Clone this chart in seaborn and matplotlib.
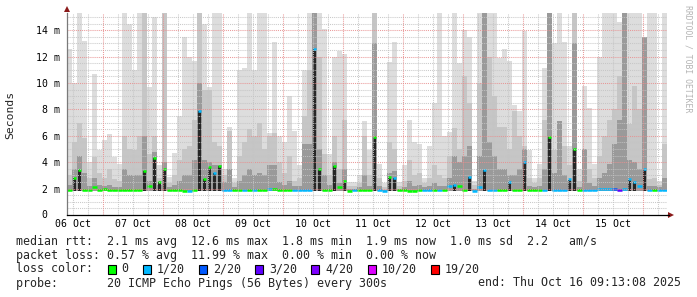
import numpy as np
import pandas as pd
import matplotlib
matplotlib.use("Agg")
import matplotlib.pyplot as plt
import matplotlib.dates as mdates
from matplotlib.patches import Rectangle, Polygon
import seaborn as sns

# ---------------- data (ms), one value per 2-hour bin ----------------
smoke_max = [12.6, 10.0, 15.5, 13.2, 4.0, 10.7, 4.9, 5.7, 6.1, 4.4,
             3.9, 15.5, 14.5, 11.0, 15.5, 15.5, 9.7, 15.0, 3.8, 15.5,
             2.9, 4.7, 7.5, 13.5, 12.0, 11.7, 15.5, 14.5, 9.7, 15.5,
             15.5, 3.5, 6.7, 2.8, 11.0, 11.1, 15.5, 11.0, 15.5, 15.5,
             6.2, 13.1, 6.0, 5.5, 9.0, 6.4, 3.8, 11.0, 15.5, 15.5,
             15.5, 14.1, 4.6, 12.0, 12.4, 12.2, 2.5, 2.5, 3.0, 7.1,
             4.9, 15.5, 3.9, 2.4, 11.6, 13.1, 2.5, 3.8, 7.2, 5.5,
             5.4, 2.8, 5.2, 8.5, 15.5, 6.0, 6.3, 15.5, 11.5, 14.0,
             13.5, 2.6, 15.5, 15.5, 15.5, 15.5, 11.9, 12.6, 11.7, 8.3,
             7.9, 13.9, 4.9, 2.8, 3.9, 11.1, 15.5, 13.0, 15.5, 13.1,
             5.2, 15.5, 3.5, 9.8, 8.1, 3.9, 12.0, 15.5, 15.5, 15.5,
             14.6, 15.5, 15.5, 15.5, 15.5, 13.5, 15.5, 15.5, 2.6, 15.5]
smoke_mid = [3.0, 5.5, 7.0, 5.8, 2.8, 4.4, 3.2, 2.8, 3.5, 2.7,
             2.6, 6.0, 5.0, 4.9, 6.0, 15.5, 4.6, 6.0, 2.8, 15.5,
             2.4, 3.0, 4.2, 5.0, 5.2, 7.2, 15.5, 9.5, 9.5, 5.5,
             5.2, 3.0, 6.4, 2.4, 4.5, 5.5, 6.5, 6.0, 7.0, 5.0,
             6.0, 6.2, 4.0, 3.2, 4.5, 2.6, 2.8, 7.5, 11.0, 15.5,
             12.0, 4.6, 3.0, 6.0, 3.5, 7.2, 2.2, 2.2, 2.4, 6.0,
             3.0, 15.5, 2.8, 2.1, 5.5, 5.0, 2.2, 2.6, 4.2, 3.0,
             3.2, 2.4, 2.8, 3.8, 3.0, 2.8, 4.5, 6.6, 5.0, 10.5,
             8.5, 2.3, 10.0, 15.5, 12.0, 9.0, 6.7, 6.7, 5.0, 7.9,
             6.0, 5.2, 2.8, 2.4, 2.8, 7.2, 15.5, 4.9, 7.1, 5.2,
             3.8, 15.5, 2.6, 5.0, 3.5, 2.8, 4.5, 6.0, 7.2, 8.0,
             10.5, 15.5, 6.9, 9.8, 8.0, 13.5, 2.7, 2.8, 2.3, 5.4]
smoke_low = [2.3, 3.5, 4.5, 3.2, 2.2, 2.8, 2.3, 2.2, 2.3, 2.1,
             2.1, 3.5, 3.0, 3.0, 3.0, 6.0, 2.6, 4.8, 2.3, 4.0,
             2.1, 2.3, 2.6, 3.0, 3.0, 4.2, 10.0, 4.2, 4.0, 3.8,
             3.8, 2.5, 3.5, 2.1, 2.6, 3.0, 3.5, 3.0, 3.2, 3.0,
             3.8, 3.8, 2.5, 2.3, 2.6, 2.2, 2.2, 5.4, 5.4, 15.5,
             5.0, 3.0, 2.3, 4.0, 2.4, 3.5, 2.0, 2.0, 2.1, 3.0,
             2.2, 13.0, 2.2, 1.9, 3.2, 3.3, 2.0, 2.1, 2.6, 2.2,
             2.3, 2.1, 2.2, 2.4, 2.2, 2.2, 2.8, 4.5, 4.0, 4.5,
             5.2, 2.0, 4.5, 15.5, 5.5, 4.5, 3.5, 3.5, 3.0, 3.0,
             3.5, 5.0, 2.2, 2.1, 2.2, 3.5, 15.5, 3.2, 7.1, 3.0,
             2.6, 13.0, 2.1, 5.0, 2.4, 2.2, 2.8, 3.2, 3.9, 5.4,
             7.2, 15.5, 4.2, 4.0, 3.5, 13.5, 2.2, 2.2, 2.1, 2.8]
median_rtt = [1.9, 2.8, 3.4, 1.9, 1.9, 2.1, 1.9, 1.95, 1.9, 1.9,
              1.9, 1.9, 1.9, 1.9, 1.9, 3.3, 2.2, 4.3, 2.5, 3.5,
              1.9, 1.9, 1.9, 1.8, 1.85, 1.9, 7.9, 2.7, 3.6, 3.2,
              3.7, 1.9, 1.9, 1.9, 1.9, 1.9, 1.9, 1.9, 1.9, 1.9,
              2.0, 2.0, 1.9, 1.9, 1.9, 1.9, 1.9, 1.9, 1.9, 12.6,
              3.5, 1.9, 1.9, 3.7, 2.1, 2.6, 1.8, 1.9, 1.9, 1.9,
              1.9, 5.9, 1.9, 1.8, 2.9, 2.8, 1.9, 1.9, 1.8, 1.8,
              1.9, 1.9, 1.9, 1.9, 1.9, 1.9, 2.2, 2.3, 2.2, 1.9,
              2.9, 1.8, 2.1, 3.4, 1.9, 1.9, 1.9, 1.9, 2.5, 1.9,
              1.9, 4.0, 1.9, 1.9, 1.9, 1.9, 5.9, 1.9, 1.9, 1.9,
              2.7, 5.0, 1.9, 1.9, 1.9, 1.9, 2.0, 2.0, 2.0, 2.0,
              1.9, 2.0, 2.7, 2.5, 2.2, 3.5, 1.9, 1.9, 1.9, 1.9]
loss_idx = [0, 0, 0, 0, 0, 0, 0, 0, 0, 0,
            0, 0, 0, 0, 0, 0, 0, 0, 0, 0,
            0, 0, 0, 0, 1, 0, 1, 0, 0, 1,
            0, 1, 1, 0, 0, 1, 0, 1, 0, 0,
            1, 0, 0, 0, 0, 1, 1, 1, 1, 1,
            0, 0, 0, 0, 0, 0, 0, 1, 0, 0,
            0, 0, 1, 1, 0, 1, 0, 0, 0, 0,
            0, 1, 1, 0, 1, 0, 1, 1, 0, 0,
            1, 1, 1, 1, 1, 1, 0, 0, 1, 0,
            0, 1, 0, 0, 0, 1, 0, 1, 1, 1,
            1, 0, 0, 1, 1, 1, 1, 1, 1, 2,
            3, 1, 1, 1, 1, 1, 1, 0, 1, 1]

loss_labels = ["0", "1/20", "2/20", "3/20", "4/20", "10/20", "19/20"]
loss_colors = ["#00ff00", "#00b8ff", "#0059ff", "#5e00ff", "#7e00ff", "#dd00ff", "#ff0000"]
day_labels = ["06 Oct", "07 Oct", "08 Oct", "09 Oct", "10 Oct",
              "11 Oct", "12 Oct", "13 Oct", "14 Oct", "15 Oct"]
y_ticks = [0, 2, 4, 6, 8, 10, 12, 14]
y_labels = ["0", "2 m", "4 m", "6 m", "8 m", "10 m", "12 m", "14 m"]
rtt_stats = ["2.1 ms avg", "12.6 ms max", "1.8 ms min", "1.9 ms now", "1.0 ms sd", "2.2   am/s"]
loss_stats = ["0.57 % avg", "11.99 % max", "0.00 % min", "0.00 % now"]
probe_text = "20 ICMP Echo Pings (56 Bytes) every 300s"
end_text = "end: Thu Oct 16 09:13:08 2025"
smoke_floor = 1.82

# ---------------- figure ----------------
sns.set_theme(style="white")
plt.rcParams["font.family"] = ["DejaVu Sans Mono", "DejaVu Sans"]

W, H = 697, 297
fig = plt.figure(figsize=(W / 100, H / 100), dpi=100)
fig.patch.set_facecolor("white")
ax = fig.add_axes([67 / W, (H - 215) / H, 600 / W, 202 / H])
ax.set_facecolor("white")

start = pd.Timestamp("2025-10-06 09:46")
times = pd.date_range(start, periods=len(smoke_max), freq="2h")
xs = mdates.date2num(times.to_pydatetime())
bw = 2 / 24.0

for vals, col in [(smoke_max, "#dddddd"), (smoke_mid, "#c6c6c6"), (smoke_low, "#9a9a9a")]:
    v = np.array(vals)
    ax.bar(xs, v - smoke_floor, bottom=smoke_floor, width=bw, align="edge",
           color=col, linewidth=0, antialiased=False, zorder=2)

med = np.array(median_rtt)
spike = med >= 2.3
sw = 1.2 / 24.0
ax.bar(xs[spike] + (bw - sw) / 2, med[spike] - smoke_floor, bottom=smoke_floor, width=sw,
       align="edge", color="#262626", linewidth=0, antialiased=False, zorder=3)

for i in range(len(med)):
    c = loss_colors[loss_idx[i]]
    if spike[i]:
        x0, x1 = xs[i] + (bw - sw) / 2, xs[i] + (bw + sw) / 2
    else:
        x0, x1 = xs[i], xs[i] + bw
    ax.hlines(med[i], x0, x1, colors=c, linewidth=1.8, zorder=5)

t0 = mdates.date2num(start.to_pydatetime())
ax.set_xlim(t0, t0 + 10)
ax.set_ylim(0, 15.3)

# ---------------- grid (drawn over data, as rrdtool does) ----------------
dot = (0, (1, 1))
for yv in np.arange(0.5, 15.3, 0.5):
    if abs(yv % 2) < 1e-9:
        ax.axhline(yv, color="#e89090", lw=0.75, ls=dot, zorder=6, alpha=0.9)
    else:
        ax.axhline(yv, color="#c4c4c4", lw=0.75, ls=dot, zorder=6, alpha=0.9)
six_hours = pd.date_range("2025-10-06 12:00", "2025-10-16 06:00", freq="6h")
for t in six_hours:
    xv = mdates.date2num(t.to_pydatetime())
    if t.hour == 0:
        ax.axvline(xv, color="#e89090", lw=0.75, ls=dot, zorder=6, alpha=0.9)
    else:
        ax.axvline(xv, color="#c4c4c4", lw=0.75, ls=dot, zorder=6, alpha=0.9)

# ---------------- axes, ticks ----------------
noons = pd.date_range("2025-10-06 12:00", periods=len(day_labels), freq="D")
ax.set_xticks(mdates.date2num(noons.to_pydatetime()))
ax.set_xticklabels(day_labels)
ax.set_yticks(y_ticks[1:])
ax.set_yticklabels(y_labels[1:])
ax.tick_params(axis="both", length=0, labelsize=7.1, colors="#000000")
ax.tick_params(axis="x", pad=3)
ax.tick_params(axis="y", pad=5)
# zero label sits in the number column (rrdtool aligns digits, not units)
ax.annotate(y_labels[0], xy=(0, y_ticks[0]), xycoords=("axes fraction", "data"),
            xytext=(-20, 0), textcoords="offset pixels", ha="right", va="center",
            fontsize=7.1, color="#000000")
ax.grid(False)
for s in ["top", "right"]:
    ax.spines[s].set_visible(False)
ax.spines["left"].set_color("#7a7a7a")
ax.spines["left"].set_linewidth(0.9)
ax.spines["bottom"].set_color("#000000")
ax.spines["bottom"].set_linewidth(0.9)
ax.spines["left"].set_zorder(7)
ax.spines["bottom"].set_zorder(7)


def px(x, y):
    return (x / W, 1 - y / H)


fig.patches.append(Polygon([px(64, 12), px(70, 12), px(67, 6)], closed=True,
                           transform=fig.transFigure, facecolor="#8b1a1a", edgecolor="none"))
fig.patches.append(Polygon([px(668, 212), px(668, 218), px(674, 215)], closed=True,
                           transform=fig.transFigure, facecolor="#8b1a1a", edgecolor="none"))
fig.add_artist(plt.Line2D([667 / W, 669 / W], [1 - 215 / H, 1 - 215 / H], color="black", lw=0.9))

fig.text(10 / W, 1 - 115 / H, "Seconds", rotation=90, ha="center", va="center", fontsize=8.2)
fig.text(688 / W, 1 - 59 / H, "RRDTOOL / TOBI OETIKER", rotation=270, ha="center", va="center",
         fontsize=5.9, color="#b4b4b4")

# ---------------- legend text ----------------
fs = 8.4
cw = 0.602 * fs * 100 / 72.0
x_left = 16

line1 = "median rtt:  " + "  ".join(rtt_stats)
line2 = "packet loss: " + "  ".join(loss_stats)
fig.text(x_left / W, 1 - 241 / H, line1, ha="left", va="center", fontsize=fs)
fig.text(x_left / W, 1 - 255 / H, line2, ha="left", va="center", fontsize=fs)
fig.text(x_left / W, 1 - 269 / H, "loss color:", ha="left", va="center", fontsize=fs)
idx = 13
for lab, col in zip(loss_labels, loss_colors):
    sx = x_left + idx * cw + 0.5
    fig.patches.append(Rectangle((sx / W, 1 - 273.5 / H), 8 / W, 9 / H, transform=fig.transFigure,
                                 facecolor=col, edgecolor="black", linewidth=0.8))
    fig.text((x_left + (idx + 2) * cw) / W, 1 - 269 / H, lab, ha="left", va="center", fontsize=fs)
    idx += 2 + len(lab) + 2
fig.text(x_left / W, 1 - 283 / H, "probe:       " + probe_text, ha="left", va="center", fontsize=fs)
fig.text(681 / W, 1 - 283 / H, end_text, ha="right", va="center", fontsize=fs)

fig.savefig("out.png", dpi=100, facecolor="white")
